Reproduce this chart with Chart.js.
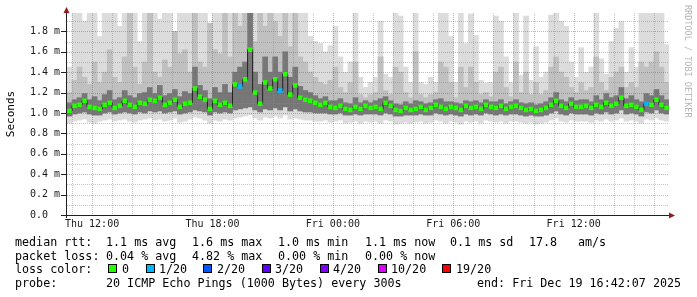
<!DOCTYPE html>
<html>
<head>
<meta charset="utf-8">
<script src="https://cdn.jsdelivr.net/npm/chart.js@4.4.1/dist/chart.umd.min.js"></script>
<style>
  body { margin: 0; background: #fff; }
  #wrap { position: relative; width: 697px; height: 297px; overflow: hidden; background: #fff; }
  #graph { position: absolute; left: 0; top: 0; }
  .t { position: absolute; font: 11.7px "DejaVu Sans Mono", monospace; line-height: 14px; white-space: pre; color: #000; }
  .box { position: absolute; width: 9px; height: 9px; box-sizing: border-box; border: 1px solid #000; }
</style>
</head>
<body>
<div id="wrap">
  <canvas id="graph" width="697" height="297"></canvas>
  <div id="legend"></div>
</div>
<script>
// 15 minute bins from Thu 10:45 to Fri 16:45 (values in ms)
const binMinutes = 15;

const median = [
  1.02,1.07,1.08,1.12,1.06,1.05,1.04,1.08,1.10,1.05,
  1.07,1.12,1.08,1.06,1.10,1.09,1.13,1.12,1.15,1.08,
  1.10,1.13,1.06,1.09,1.10,1.24,1.16,1.13,1.04,1.12,
  1.08,1.10,1.07,1.28,1.26,1.33,1.62,1.20,1.09,1.30,
  1.24,1.33,1.22,1.38,1.18,1.27,1.15,1.13,1.12,1.10,
  1.08,1.10,1.06,1.05,1.07,1.04,1.03,1.06,1.04,1.07,
  1.05,1.06,1.04,1.10,1.07,1.03,1.02,1.05,1.03,1.04,
  1.06,1.03,1.05,1.08,1.06,1.04,1.06,1.05,1.03,1.07,
  1.05,1.06,1.04,1.08,1.06,1.05,1.07,1.04,1.06,1.07,
  1.05,1.03,1.04,1.02,1.03,1.05,1.08,1.12,1.07,1.05,
  1.09,1.06,1.06,1.07,1.05,1.08,1.06,1.10,1.07,1.09,
  1.15,1.07,1.08,1.06,1.03,1.09,1.08,1.13,1.08,1.05
];

// lost pings out of 20
const loss = [
  0,0,0,0,0,0,0,0,0,0, 0,0,0,0,0,0,0,0,0,0, 0,0,0,0,0,0,0,0,0,0,
  0,0,0,0,1,0,0,0,0,0, 0,0,1,0,0,0,0,0,0,0, 0,0,0,0,0,0,0,0,0,0,
  0,0,0,0,0,0,0,0,0,0, 0,0,0,0,0,0,0,0,0,0, 0,0,0,0,0,0,0,0,0,0,
  0,0,0,0,0,0,0,0,0,0, 0,0,0,0,0,0,0,0,0,0, 0,0,0,0,0,1,0,0,0,0
];

const smokeMax = [
  1.45,1.98,1.98,1.90,1.98,1.98,1.75,1.98,1.98,1.98,
  1.85,1.98,1.98,1.98,1.70,1.98,1.98,1.98,1.92,1.98,
  1.98,1.80,1.98,1.98,1.98,1.98,1.98,1.98,1.88,1.98,
  1.98,1.98,1.98,1.98,1.98,1.98,1.98,1.98,1.98,1.98,
  1.98,1.98,1.98,1.98,1.98,1.98,1.98,1.98,1.75,1.70,
  1.68,1.60,1.66,1.85,1.55,1.40,1.50,1.98,1.35,1.25,
  1.30,1.35,1.90,1.38,1.35,1.98,1.95,1.45,1.30,1.98,
  1.30,1.28,1.35,1.30,1.98,1.98,1.75,1.30,1.98,1.68,
  1.97,1.76,1.32,1.29,1.30,1.95,1.90,1.55,1.30,1.98,
  1.37,1.95,1.32,1.65,1.35,1.40,1.96,1.98,1.90,1.85,
  1.50,1.35,1.64,1.40,1.45,1.98,1.53,1.38,1.70,1.83,
  1.90,1.40,1.64,1.45,1.98,1.98,1.98,1.98,1.98,1.67
];

const smokeUp = [
  1.20,1.32,1.45,1.35,1.28,1.50,1.30,1.40,1.62,1.35,
  1.30,1.55,1.98,1.45,1.28,1.50,1.98,1.40,1.35,1.52,
  1.45,1.80,1.58,1.62,1.40,1.98,1.50,1.45,1.88,1.62,
  1.58,1.98,1.55,1.98,1.85,1.98,1.98,1.70,1.98,1.85,
  1.98,1.90,1.75,1.98,1.65,1.98,1.55,1.50,1.40,1.35,
  1.30,1.28,1.32,1.45,1.25,1.20,1.30,1.50,1.18,1.15,
  1.18,1.20,1.55,1.22,1.18,1.45,1.40,1.20,1.15,1.60,
  1.18,1.15,1.18,1.20,1.50,1.45,1.30,1.15,1.45,1.25,
  1.45,1.30,1.18,1.20,1.16,1.40,1.45,1.25,1.16,1.50,
  1.20,1.40,1.18,1.30,1.18,1.22,1.45,1.55,1.40,1.35,
  1.25,1.20,1.30,1.22,1.25,1.55,1.30,1.22,1.35,1.40,
  1.45,1.25,1.30,1.25,1.50,1.45,1.50,1.60,1.45,1.30
];

const smokeCore = [
  1.10,1.13,1.15,1.19,1.13,1.16,1.12,1.18,1.22,1.13,
  1.15,1.22,1.17,1.15,1.19,1.20,1.25,1.19,1.27,1.17,
  1.19,1.23,1.16,1.21,1.19,1.45,1.27,1.22,1.14,1.25,
  1.20,1.28,1.20,1.40,1.45,1.50,1.98,1.40,1.28,1.55,
  1.40,1.55,1.40,1.60,1.35,1.45,1.26,1.22,1.20,1.17,
  1.14,1.16,1.12,1.12,1.14,1.10,1.09,1.15,1.10,1.12,
  1.10,1.12,1.14,1.16,1.12,1.09,1.08,1.11,1.09,1.12,
  1.11,1.09,1.10,1.13,1.14,1.11,1.11,1.10,1.09,1.12,
  1.11,1.12,1.10,1.13,1.11,1.11,1.13,1.09,1.11,1.13,
  1.10,1.09,1.10,1.08,1.09,1.11,1.15,1.20,1.13,1.11,
  1.15,1.12,1.13,1.13,1.11,1.17,1.13,1.19,1.15,1.17,
  1.25,1.14,1.17,1.13,1.11,1.19,1.17,1.23,1.17,1.13
];

const smokeLow = [
  0.97,0.99,1.00,1.01,0.99,0.98,0.98,1.00,1.01,0.99,
  1.00,1.01,1.00,0.99,1.01,1.00,1.02,1.01,1.02,1.00,
  1.01,1.02,0.99,1.00,1.01,1.03,1.02,1.01,0.98,1.01,
  1.00,1.01,1.00,1.03,1.04,1.05,1.06,1.03,1.01,1.04,
  1.03,1.05,1.03,1.06,1.02,1.04,1.02,1.01,1.01,1.00,
  1.00,1.00,0.99,0.99,1.00,0.98,0.98,0.99,0.98,0.99,
  0.99,0.99,0.98,1.00,0.99,0.97,0.97,0.98,0.98,0.98,
  0.99,0.98,0.98,1.00,0.99,0.98,0.99,0.98,0.97,0.99,
  0.98,0.99,0.98,1.00,0.99,0.98,0.99,0.98,0.99,0.99,
  0.98,0.97,0.98,0.97,0.97,0.98,1.00,1.02,0.99,0.98,
  1.00,0.99,0.99,0.99,0.98,1.00,0.99,1.01,0.99,1.00,
  1.03,0.99,1.00,0.99,0.97,1.01,1.00,1.03,1.00,0.99
];

const smokeMin = [
  0.90,0.92,0.93,0.94,0.91,0.90,0.92,0.93,0.94,0.92,
  0.93,0.94,0.92,0.91,0.93,0.94,0.95,0.93,0.94,0.92,
  0.93,0.95,0.91,0.92,0.94,0.96,0.95,0.93,0.90,0.93,
  0.92,0.94,0.93,0.95,0.96,0.97,0.98,0.95,0.93,0.96,
  0.95,0.97,0.95,0.98,0.94,0.95,0.94,0.93,0.93,0.92,
  0.92,0.93,0.91,0.92,0.93,0.90,0.91,0.92,0.90,0.92,
  0.91,0.92,0.90,0.93,0.92,0.89,0.90,0.91,0.90,0.91,
  0.92,0.90,0.91,0.93,0.92,0.90,0.92,0.91,0.89,0.92,
  0.91,0.92,0.90,0.93,0.92,0.91,0.92,0.90,0.92,0.92,
  0.91,0.90,0.91,0.89,0.90,0.91,0.93,0.95,0.92,0.91,
  0.93,0.92,0.92,0.92,0.91,0.93,0.92,0.94,0.92,0.93,
  0.95,0.92,0.93,0.92,0.90,0.94,0.93,0.95,0.93,0.92
];

// x axis, minutes after Thu 10:45
const tickMinutes = [75, 435, 795, 1155, 1515];
const tickLabels = ['Thu 12:00', 'Thu 18:00', 'Fri 00:00', 'Fri 06:00', 'Fri 12:00'];

const lossSteps = [0, 1, 2, 3, 4, 10, 19];
const lossLabels = ['0', '1/20', '2/20', '3/20', '4/20', '10/20', '19/20'];
const lossColors = ['#26ff00', '#00b8ff', '#0059ff', '#5e00ff', '#7e00ff', '#dd00ff', '#ff0000'];

const rttStats = ['median rtt:', '1.1 ms avg', '1.6 ms max', '1.0 ms min', '1.1 ms now', '0.1 ms sd', '17.8', 'am/s'];
const lossStats = ['packet loss:', '0.04 % avg', '4.82 % max', '0.00 % min', '0.00 % now'];
const probeInfo = ['probe:', '20 ICMP Echo Pings (1000 Bytes) every 300s', 'end: Fri Dec 19 16:42:07 2025'];

const binX = median.map((v, i) => i * binMinutes + binMinutes / 2);
const band = (lo, hi) => binX.map((x, i) => ({ x, y: [lo[i], hi[i]] }));

const lossColor = (n) => {
  let c = lossColors[0];
  lossSteps.forEach((s, k) => { if (n >= s) c = lossColors[k]; });
  return c;
};

const barDefaults = { type: 'bar', grouped: false, barPercentage: 1, categoryPercentage: 1, borderWidth: 0 };

const gridPlugin = {
  id: 'rrdGrid',
  afterDatasetDraw(chart, args) {
    if (args.index !== 2) return;
    const { ctx, chartArea: a, scales: { x, y } } = chart;
    ctx.save();
    ctx.lineWidth = 1;
    ctx.setLineDash([1, 1]);
    for (let k = 1; k * 0.1 < y.max; k++) {
      const py = Math.round(y.getPixelForValue(k * 0.1)) + 0.5;
      ctx.strokeStyle = k % 2 === 0 ? 'rgba(205,60,60,0.45)' : 'rgba(140,140,140,0.5)';
      ctx.beginPath(); ctx.moveTo(a.left, py); ctx.lineTo(a.right, py); ctx.stroke();
    }
    for (let m = 15; m < x.max; m += 60) {
      const px = Math.round(x.getPixelForValue(m)) + 0.5;
      ctx.strokeStyle = tickMinutes.includes(m) ? 'rgba(205,60,60,0.45)' : 'rgba(140,140,140,0.5)';
      ctx.beginPath(); ctx.moveTo(px, a.top); ctx.lineTo(px, a.bottom); ctx.stroke();
    }
    ctx.restore();
  },
  afterDraw(chart) {
    const { ctx, chartArea: a, scales: { y } } = chart;
    ctx.save();
    ctx.strokeStyle = '#202020';
    ctx.lineWidth = 1;
    // tick marks at labelled values
    y.ticks.forEach(t => {
      const py = Math.round(y.getPixelForValue(t.value)) + 0.5;
      ctx.beginPath(); ctx.moveTo(a.left - 6, py); ctx.lineTo(a.left - 1, py); ctx.stroke();
    });
    // axes
    ctx.beginPath();
    ctx.moveTo(a.left - 0.5, a.top - 1); ctx.lineTo(a.left - 0.5, a.bottom + 3);
    ctx.moveTo(a.left - 6, a.bottom + 0.5); ctx.lineTo(a.right + 1, a.bottom + 0.5);
    ctx.stroke();
    // arrows
    ctx.fillStyle = '#8f1f1f';
    ctx.beginPath();
    ctx.moveTo(a.left - 0.5, a.top - 6); ctx.lineTo(a.left - 3.5, a.top); ctx.lineTo(a.left + 2.5, a.top);
    ctx.closePath(); ctx.fill();
    ctx.beginPath();
    ctx.moveTo(a.right + 6, a.bottom + 0.5); ctx.lineTo(a.right, a.bottom - 2.5); ctx.lineTo(a.right, a.bottom + 3.5);
    ctx.closePath(); ctx.fill();
    // watermark
    ctx.translate(687.5, 5);
    ctx.rotate(Math.PI / 2);
    ctx.fillStyle = '#b4b4b4';
    ctx.font = '8.5px "DejaVu Sans Mono"';
    ctx.textBaseline = 'middle';
    ctx.fillText('RRDTOOL / TOBI OETIKER', 0, 0);
    ctx.restore();
  }
};

new Chart(document.getElementById('graph'), {
  type: 'bar',
  data: {
    datasets: [
      { ...barDefaults, data: band(smokeMin, smokeMax), backgroundColor: '#dcdcdc', order: 5 },
      { ...barDefaults, data: band(smokeLow, smokeUp), backgroundColor: '#c0c0c0', order: 4 },
      { ...barDefaults, data: band(smokeLow, smokeCore), backgroundColor: '#777777', order: 3 },
      {
        type: 'line', data: binX.map((x, i) => ({ x, y: median[i] })),
        stepped: 'middle', borderColor: '#202020', borderWidth: 1, pointRadius: 0, order: 2
      },
      {
        type: 'line', data: binX.map((x, i) => ({ x, y: median[i] })), showLine: false,
        pointStyle: 'rect', pointRadius: 3.2, pointBorderWidth: 0,
        pointBackgroundColor: loss.map(lossColor), pointBorderColor: loss.map(lossColor), order: 1
      }
    ]
  },
  options: {
    responsive: false,
    devicePixelRatio: 1,
    animation: false,
    layout: { padding: { top: 13, right: 28, left: 0, bottom: 0 } },
    plugins: { legend: { display: false }, tooltip: { enabled: false } },
    scales: {
      x: {
        type: 'linear', min: 0, max: median.length * binMinutes, offset: false,
        grid: { display: false, drawTicks: false }, border: { display: false },
        afterBuildTicks: (s) => { s.ticks = tickMinutes.map(v => ({ value: v })); },
        afterFit: (s) => { s.height = 82; },
        ticks: {
          autoSkip: false, maxRotation: 0, padding: 3, color: '#1a1a1a',
          font: { family: 'DejaVu Sans Mono', size: 10 },
          callback: (v) => tickLabels[tickMinutes.indexOf(v)]
        }
      },
      y: {
        min: 0, max: 1.98,
        grid: { display: false, drawTicks: false }, border: { display: false },
        afterFit: (s) => { s.width = 67; },
        title: {
          display: true, text: 'Seconds', color: '#000',
          font: { family: 'DejaVu Sans Mono', size: 11 }, padding: { top: 5, bottom: 0 }
        },
        ticks: {
          stepSize: 0.2, includeBounds: false, padding: 7, color: '#1a1a1a',
          font: { family: 'DejaVu Sans Mono', size: 10 },
          callback: (v) => v === 0 ? '0.0  ' : v.toFixed(1) + ' m'
        }
      }
    }
  },
  plugins: [gridPlugin]
});

// legend rows below the graph
const legend = document.getElementById('legend');
const addText = (x, top, s) => {
  const d = document.createElement('div');
  d.className = 't'; d.style.left = x + 'px'; d.style.top = top + 'px'; d.textContent = s;
  legend.appendChild(d);
};
const rttX = [15, 106, 192, 278, 365, 450, 529, 578];
rttStats.forEach((s, i) => addText(rttX[i], 235, s));
lossStats.forEach((s, i) => addText(rttX[i], 248.7, s));
addText(15, 262.4, 'loss color:');
const boxX = [108, 146, 203, 262, 320, 378, 442];
const labelX = [122, 159, 217, 275, 333, 391, 456];
lossLabels.forEach((s, i) => {
  const b = document.createElement('div');
  b.className = 'box'; b.style.left = boxX[i] + 'px'; b.style.top = '264px';
  b.style.background = lossColors[i];
  legend.appendChild(b);
  addText(labelX[i], 262.4, s);
});
const probeX = [15, 106, 477];
probeInfo.forEach((s, i) => addText(probeX[i], 276.1, s));
</script>
</body>
</html>
